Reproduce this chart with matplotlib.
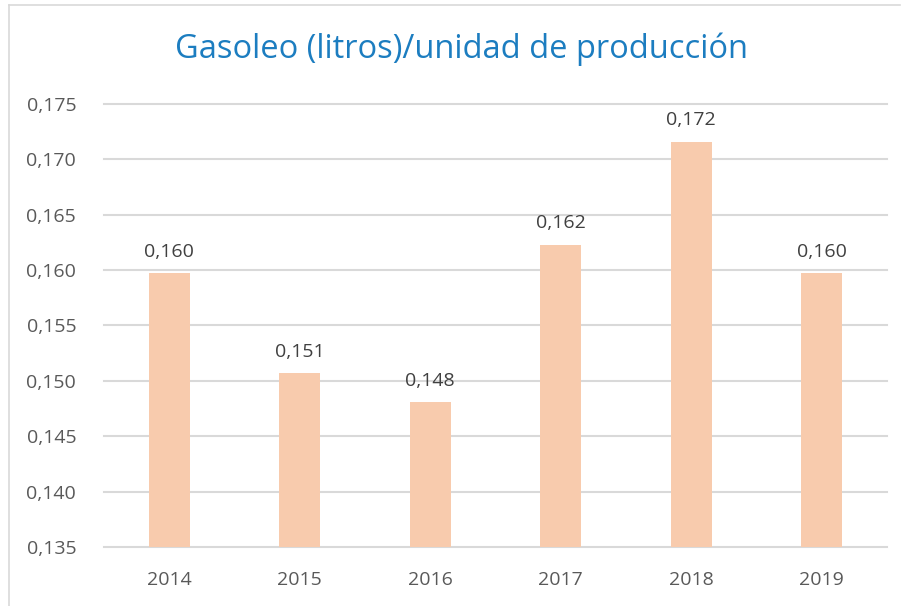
import matplotlib
matplotlib.use('Agg')
import matplotlib.pyplot as plt
from matplotlib.lines import Line2D
from matplotlib.ticker import FuncFormatter

# Datos del gráfico
years = ['2014', '2015', '2016', '2017', '2018', '2019']
values = [0.1597, 0.1507, 0.1481, 0.1623, 0.1716, 0.1597]
y_ticks = [0.135, 0.140, 0.145, 0.150, 0.155, 0.160, 0.165, 0.170, 0.175]

plt.rcParams['font.family'] = ['Open Sans', 'DejaVu Sans']

def coma(v, pos=None):
    return f"{v:.3f}".replace('.', ',')

fig = plt.figure(figsize=(9.04, 6.06), dpi=100)
ax = fig.add_axes([0.115, 0.0974, 0.866, 0.731])

x = range(len(years))
ax.bar(x, [v - y_ticks[0] for v in values], bottom=y_ticks[0], width=0.315,
       color='#F8CBAD', zorder=2)

for i, v in enumerate(values):
    ax.text(i, v + 0.0011, coma(v), ha='center', va='bottom',
            fontsize=14, color='#404040')

ax.set_ylim(y_ticks[0], y_ticks[-1])
ax.set_xlim(-0.5, len(years) - 0.5)
ax.set_yticks(y_ticks)
ax.yaxis.set_major_formatter(FuncFormatter(coma))
ax.set_xticks(list(x))
ax.set_xticklabels(years)
ax.tick_params(axis='both', length=0, labelsize=14, colors='#595959')
ax.tick_params(axis='y', pad=20)
ax.tick_params(axis='x', pad=17)
ax.grid(axis='y', color='#D9D9D9', linewidth=1.5, zorder=0)
for gl in ax.get_ygridlines():
    gl.set_clip_on(False)
for s in ax.spines.values():
    s.set_visible(False)

fig.text(0.511, 0.919, 'Gasoleo (litros)/unidad de producción', ha='center',
         va='center', fontsize=23.5, color='#1C7DC0')

# borde del gráfico
fig.add_artist(Line2D([9 / 904, 900 / 904], [1 - 5 / 606, 1 - 5 / 606],
                      transform=fig.transFigure, color='#D9D9D9', linewidth=1.2))
fig.add_artist(Line2D([9 / 904, 9 / 904], [0, 1 - 5 / 606],
                      transform=fig.transFigure, color='#D9D9D9', linewidth=1.2))

fig.savefig('out.png', dpi=100)
